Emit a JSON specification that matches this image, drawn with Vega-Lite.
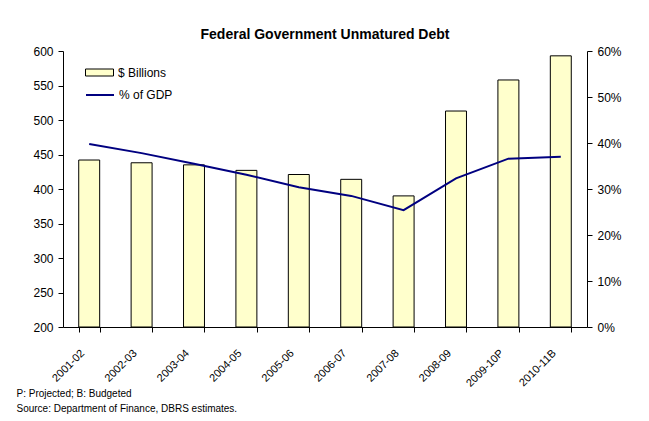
{
  "$schema": "https://vega.github.io/schema/vega-lite/v6.json",
  "width": 524,
  "height": 276,
  "autosize": {"type": "none"},
  "padding": {"left": 63, "top": 51, "right": 62, "bottom": 94},
  "background": "white",
  "config": {
    "font": "Liberation Sans",
    "view": {"stroke": null},
    "axis": {"grid": false, "domainColor": "black", "tickColor": "black", "labelColor": "black", "labelFont": "Liberation Sans", "labelFontSize": 12, "tickSize": 5, "domainWidth": 1, "tickWidth": 1}
  },
  "title": {"text": "Federal Government Unmatured Debt", "fontSize": 14, "fontWeight": "bold", "font": "Liberation Sans", "anchor": "middle", "offset": 3, "color": "black"},
  "data": {
    "values": [
      {"year": "2001-02", "debt": 442, "gdp": 0.398},
      {"year": "2002-03", "debt": 438, "gdp": 0.378},
      {"year": "2003-04", "debt": 435, "gdp": 0.355},
      {"year": "2004-05", "debt": 427, "gdp": 0.331},
      {"year": "2005-06", "debt": 421, "gdp": 0.304},
      {"year": "2006-07", "debt": 414, "gdp": 0.285},
      {"year": "2007-08", "debt": 390, "gdp": 0.254},
      {"year": "2008-09", "debt": 513, "gdp": 0.323},
      {"year": "2009-10P", "debt": 558, "gdp": 0.366},
      {"year": "2010-11B", "debt": 593, "gdp": 0.370}
    ]
  },
  "encoding": {
    "x": {
      "field": "year", "type": "nominal", "sort": null,
      "scale": {"paddingInner": 0.6, "paddingOuter": 0.3},
      "axis": {
        "labelAngle": -45, "labelFontSize": 11, "tickBand": "extent", "labelOffset": -11, "labelPadding": 15,
        "title": ["P: Projected; B: Budgeted", "Source: Department of Finance, DBRS estimates."],
        "titleFontSize": 10, "titleFontWeight": "normal", "titleColor": "black",
        "titleAlign": "left", "titleX": -47, "titleY": 66, "titleBaseline": "middle", "titleLineHeight": 15, "titleAngle": 0
      }
    }
  },
  "layer": [
    {
      "mark": {"type": "bar", "stroke": "black", "strokeWidth": 1},
      "encoding": {
        "y": {"field": "debt", "type": "quantitative", "scale": {"domain": [200, 600], "zero": false, "clamp": true},
          "axis": {"title": null, "values": [200, 250, 300, 350, 400, 450, 500, 550, 600], "labelPadding": 5}},
        "fill": {"datum": "$ Billions", "scale": {"range": ["#FFFFCC"]},
          "legend": {"title": null, "orient": "none", "legendX": 22, "legendY": 7, "padding": 0,
            "symbolType": "M-1,-0.25H1V0.25H-1Z", "symbolSize": 784, "symbolStrokeColor": "black", "symbolStrokeWidth": 1,
            "labelFontSize": 12, "labelColor": "black", "labelOffset": 4, "labelFont": "Liberation Sans"}}
      }
    },
    {
      "mark": {"type": "line", "strokeWidth": 2},
      "encoding": {
        "y": {"field": "gdp", "type": "quantitative", "scale": {"domain": [0, 0.6]},
          "axis": {"title": null, "orient": "right", "format": ".0%", "values": [0, 0.1, 0.2, 0.3, 0.4, 0.5, 0.6], "labelPadding": 5}},
        "stroke": {"datum": "% of GDP", "scale": {"range": ["#000080"]},
          "legend": {"title": null, "orient": "none", "legendX": 22, "legendY": 29, "padding": 0,
            "symbolType": "stroke", "symbolSize": 784, "symbolStrokeWidth": 2,
            "labelFontSize": 12, "labelColor": "black", "labelOffset": 4, "labelFont": "Liberation Sans"}}
      }
    }
  ],
  "resolve": {"scale": {"y": "independent", "fill": "independent", "stroke": "independent"}}
}
